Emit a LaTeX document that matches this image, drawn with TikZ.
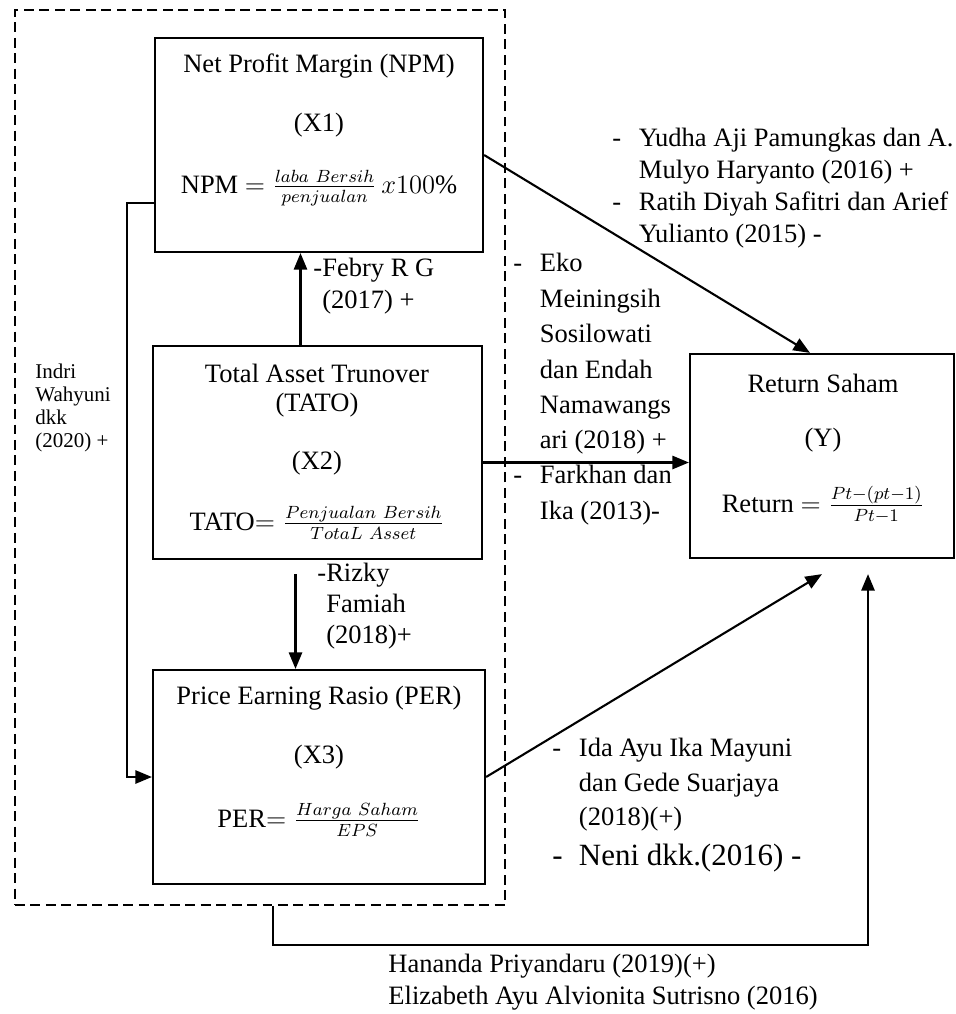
\documentclass[tikz,border=0pt]{standalone}
\usepackage{fontspec}
\setmainfont{Liberation Serif}
\usetikzlibrary{arrows.meta, fit, calc}
\newcommand\itm{\makebox[12pt][l]{-}}
\newcommand\ind{\hspace*{12pt}}

\begin{document}
\begin{tikzpicture}[
    x=0.4525pt, y=-0.4525pt,
    every node/.style={font=\fontsize{12}{14.5}\selectfont},
    varbox/.style={draw, line width=1pt, inner sep=0pt},
    grpbox/.style={draw, dash pattern=on 4.5pt off 2.5pt, line width=0.6pt, inner sep=0pt},
    cite/.style={anchor=west, align=left, inner sep=0pt},
    arr/.style={-{Triangle[length=7.5pt, width=6pt]}, line width=0.95pt},
  ]
  \useasboundingbox (0,0) rectangle (956,1014);

  \node[grpbox, fit={(15,10) (505,905)}] (grp) {};
  \node[varbox, fit={(155,38) (483,252)}] (npm) {};
  \node[varbox, fit={(153,346) (482,559)}] (tato) {};
  \node[varbox, fit={(153,670) (485,884)}] (per) {};
  \node[varbox, fit={(690,354) (954,558)}] (ret) {};

  \node (npmT) at (319,66)  {Net Profit Margin (NPM)};
  \node (npmX) at (319,125) {(X1)};
  \node (npmF) at (319,188) {NPM $=\frac{laba\ Bersih}{penjualan}\,x100\%$};

  \node (tatoT) at (317,373) {Total Asset Trunover};
  \node (tatoA) at (317,405) {(TATO)};
  \node (tatoX) at (317,463) {(X2)};
  \node (tatoF) at (317,523) {TATO$=\frac{Penjualan\ Bersih}{TotaL\ Asset}$};

  \node (perT) at (319,698) {Price Earning Rasio (PER)};
  \node (perX) at (319,757) {(X3)};
  \node (perF) at (319,820) {PER$=\frac{Harga\ Saham}{EPS}$};

  \node (retT) at (823,383) {Return Saham};
  \node (retY) at (823,440) {(Y)};
  \node (retF) at (823,505) {Return $=\frac{Pt-(pt-1)}{Pt-1}$};

  \draw[arr] ($(npm.east)+(0,10)$) -- ($(ret.north)+(-12,0)$);
  \coordinate (tx) at ($(tato.east)+(0,10)$);
  \draw[arr] (tx) -- (tx -| ret.west);
  \draw[arr] (per.east) -- ($(ret.south)+(0,15)$);
  \coordinate (rtn) at ($(ret.south)+(46,15)$);
  \draw[arr] ($(grp.south)+(13,0)$) -- ++(0,39) -| (rtn);
  \coordinate (up) at ($(tato.north)+(-17,0)$);
  \draw[arr] (up) -- (up |- npm.south);
  \coordinate (dn) at ($(tato.south)+(-22,14)$);
  \draw[arr] (dn) -- (dn |- per.north);
  \coordinate (brk) at ($(npm.west)+(0,58)$);
  \draw[arr] (brk) -- ++(-27,0) |- (per.west);

  \node[cite] (febry) at (313,286) {-Febry R G\\\phantom{-}(2017) +};
  \node[cite, font=\fontsize{12}{14}\selectfont] (rizky) at (317,606)
    {-Rizky\\\phantom{-}Famiah\\\phantom{-}(2018)+};
  \node[cite, font=\fontsize{9.5}{10.5}\selectfont] (indri) at (35,408)
    {Indri\\Wahyuni\\dkk\\(2020) +};
  \node[cite] (yudha) at (612,188)
    {\itm Yudha Aji Pamungkas dan A.\\\ind Mulyo Haryanto (2016) +\\
     \itm Ratih Diyah Safitri dan Arief\\\ind Yulianto (2015) -};
  \node[cite, font=\fontsize{12}{16}\selectfont] (eko) at (513,354)
    {\itm Eko\\\ind Meiningsih\\\ind Sosilowati\\\ind dan Endah\\\ind Namawangs\\\ind ari (2018) +};
  \node[cite, font=\fontsize{12}{16}\selectfont] (farkhan) at (513,495)
    {\itm Farkhan dan\\\ind Ika (2013)-};
  \node[cite, font=\fontsize{12}{15.6}\selectfont] (ida) at (552,785)
    {\itm Ida Ayu Ika Mayuni\\\ind dan Gede Suarjaya\\\ind (2018)(+)};
  \node[cite, font=\fontsize{14}{16}\selectfont] (neni) at (552,858) {\itm Neni dkk.(2016) -};
  \node[cite] (hananda) at (388,982)
    {Hananda Priyandaru (2019)(+)\\Elizabeth Ayu Alvionita Sutrisno (2016)};
\end{tikzpicture}
\end{document}
